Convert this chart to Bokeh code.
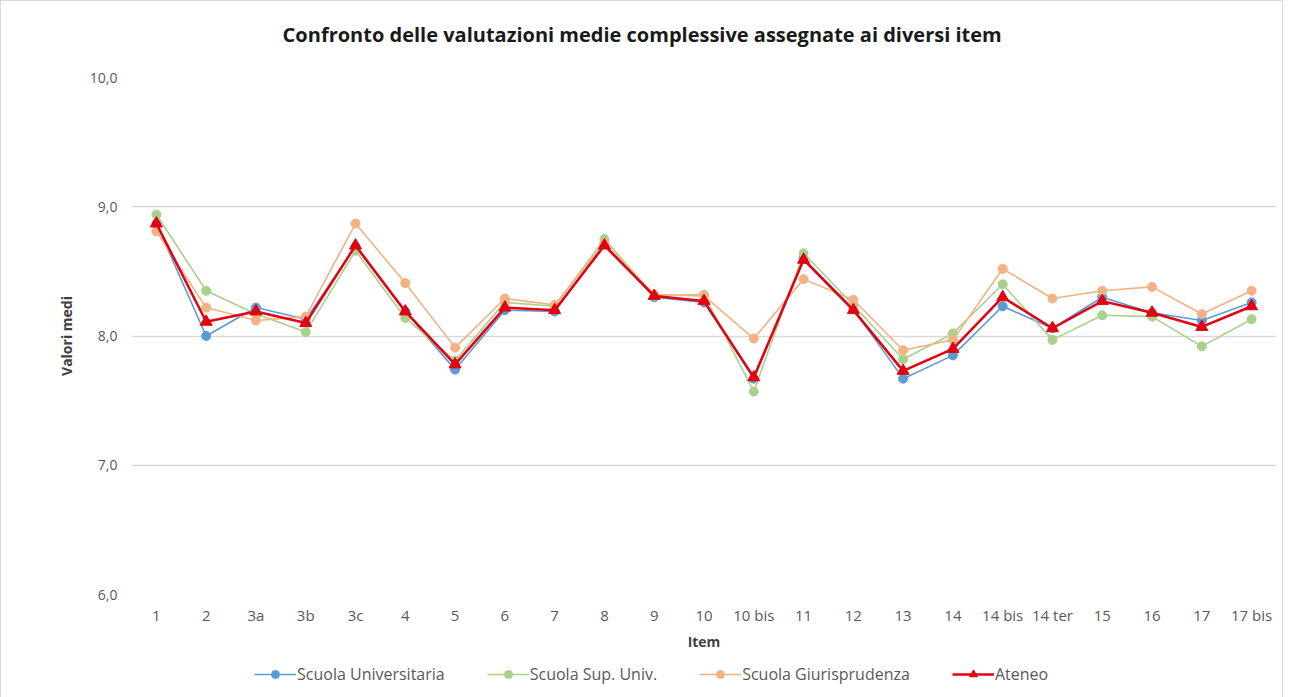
from bokeh.plotting import figure
from bokeh.layouts import column
from bokeh.models import (FactorRange, Range1d, FixedTicker, CustomJSTickFormatter,
                          Legend, LegendItem, Label)
from bokeh.embed import file_html
from bokeh.resources import INLINE

items = ["1", "2", "3a", "3b", "3c", "4", "5", "6", "7", "8", "9", "10", "10 bis",
         "11", "12", "13", "14", "14 bis", "14 ter", "15", "16", "17", "17 bis"]

scuola_universitaria = [8.87, 8.00, 8.22, 8.13, 8.69, 8.19, 7.74, 8.20, 8.19, 8.71, 8.30, 8.26, 7.67,
                        8.60, 8.21, 7.67, 7.85, 8.23, 8.06, 8.30, 8.18, 8.12, 8.26]
scuola_sup_univ = [8.94, 8.35, 8.17, 8.03, 8.66, 8.14, 7.81, 8.26, 8.23, 8.75, 8.31, 8.32, 7.57,
                   8.64, 8.24, 7.82, 8.02, 8.40, 7.97, 8.16, 8.15, 7.92, 8.13]
scuola_giurisprudenza = [8.81, 8.22, 8.12, 8.15, 8.87, 8.41, 7.91, 8.29, 8.24, 8.72, 8.32, 8.31, 7.98,
                         8.44, 8.28, 7.89, 7.97, 8.52, 8.29, 8.35, 8.38, 8.17, 8.35]
ateneo = [8.87, 8.11, 8.19, 8.10, 8.70, 8.19, 7.78, 8.22, 8.20, 8.70, 8.31, 8.27, 7.68,
          8.59, 8.20, 7.73, 7.90, 8.30, 8.06, 8.27, 8.18, 8.07, 8.23]

series_names = ["Scuola Universitaria", "Scuola Sup. Univ.", "Scuola Giurisprudenza", "Ateneo"]
y_ticks = [6, 7, 8, 9, 10]
title_text = "Confronto delle valutazioni medie complessive assegnate ai diversi item"

FONT = "Open Sans"
colors = ["#5B9BD5", "#A9D18E", "#F4B183", "#E3000F"]
data = [scuola_universitaria, scuola_sup_univ, scuola_giurisprudenza, ateneo]

# ---- title strip ----
t = figure(width=1281, height=50, output_backend="svg", toolbar_location=None,
           min_border=0, x_range=Range1d(0, 1), y_range=Range1d(0, 1), title_location=None)
t.axis.visible = False
t.grid.visible = False
t.outline_line_color = None
t.add_layout(Label(x=0.446, y=0.34, text=title_text, text_align="center", text_baseline="middle",
                   text_font=FONT, text_font_size="20px", text_font_style="bold",
                   text_color="#1a1a1a"))

# ---- main chart ----
p = figure(x_range=FactorRange(*items), y_range=Range1d(6, 10),
           frame_width=1145, frame_height=517, output_backend="svg", toolbar_location=None,
           title_location=None,
           min_border_left=130, min_border_right=6, min_border_top=26, min_border_bottom=58)

p.outline_line_color = None
p.xgrid.grid_line_color = None
p.ygrid.grid_line_color = "#d9d9d9"
p.ygrid.grid_line_width = 1.3

p.yaxis.ticker = FixedTicker(ticks=y_ticks)
p.yaxis.formatter = CustomJSTickFormatter(code="return tick.toFixed(1).replace('.', ',');")
for ax in (p.xaxis, p.yaxis):
    ax.axis_line_color = None
    ax.major_tick_line_color = None
    ax.minor_tick_line_color = None
    ax.major_tick_out = 0
    ax.major_tick_in = 0
    ax.minor_tick_out = 0
    ax.minor_tick_in = 0
    ax.major_label_text_font = FONT
    ax.major_label_text_font_size = "14px"
    ax.major_label_text_color = "#595959"
    ax.axis_label_text_font = FONT
    ax.axis_label_text_font_size = "14px"
    ax.axis_label_text_font_style = "bold"
    ax.axis_label_text_color = "#404040"
p.xaxis.major_label_text_font_size = "15px"
p.yaxis.major_label_standoff = 14
p.xaxis.major_label_standoff = 10
p.yaxis.axis_label = "Valori medi"
p.xaxis.axis_label = "Item"
p.xaxis.axis_label_standoff = 4
p.yaxis.axis_label_standoff = 11

# ---- legend strip (same series, drawn out of view; only the legend shows) ----
q = figure(width=1281, height=44, output_backend="svg", toolbar_location=None,
           min_border=0, x_range=FactorRange(*items), y_range=Range1d(20, 21),
           title_location=None)
q.axis.visible = False
q.grid.visible = False
q.outline_line_color = None

legend_items = []
for name, vals, col in zip(series_names, data, colors):
    if name == "Ateneo":
        p.line(items, vals, line_color=col, line_width=2.5)
        p.scatter(items, vals, marker="triangle", size=12, fill_color=col, line_color=col)
        l = q.line(items, vals, line_color=col, line_width=2.5)
        m = q.scatter(items, vals, marker="triangle", size=12, fill_color=col, line_color=col)
    else:
        p.line(items, vals, line_color=col, line_width=1.6)
        p.scatter(items, vals, marker="circle", size=9, fill_color=col, line_color=col)
        l = q.line(items, vals, line_color=col, line_width=1.6)
        m = q.scatter(items, vals, marker="circle", size=9, fill_color=col, line_color=col)
    legend_items.append(LegendItem(label=name, renderers=[l, m]))

legend = Legend(items=legend_items, orientation="horizontal", location=(123, 12),
                label_text_font=FONT, label_text_font_size="16px", label_text_color="#595959",
                border_line_color=None, background_fill_alpha=0, spacing=42,
                glyph_width=42, glyph_height=20, label_standoff=1, margin=0, padding=0)
q.add_layout(legend, "center")

layout = column(t, p, q, spacing=0)
layout.styles = {"border": "1px solid #d9d9d9"}

open("out.html", "w").write(file_html(layout, INLINE))
